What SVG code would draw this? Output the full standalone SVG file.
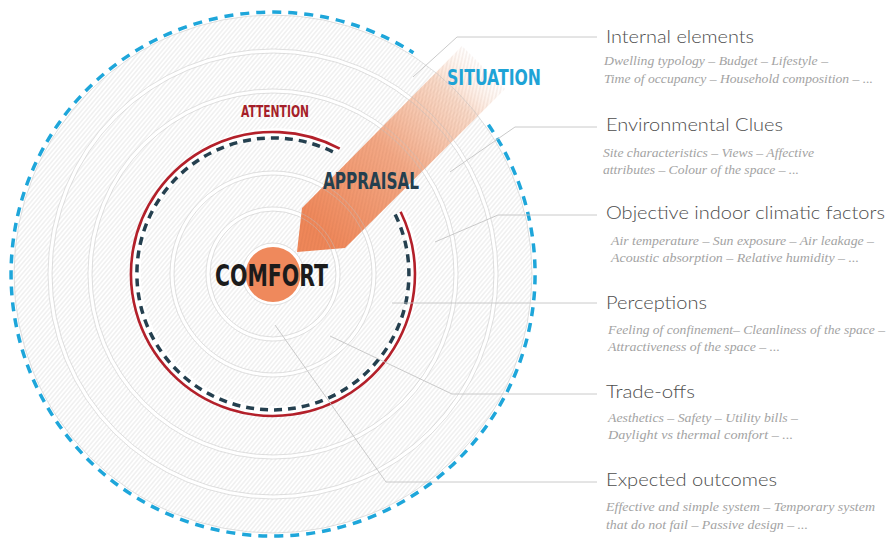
<svg xmlns="http://www.w3.org/2000/svg" width="892" height="538" viewBox="0 0 892 538">
<defs>
<style>
.band{fill:none;stroke:#ffffff;stroke-width:4}
.edge{fill:none;stroke:#bdbdbd;stroke-width:0.6;stroke-opacity:0.8}
.lead{fill:none;stroke:#c4c4c4;stroke-width:0.9}
.cap{font-family:'DejaVu Sans Condensed','DejaVu Sans',sans-serif;font-stretch:condensed;font-weight:bold}
.title{font-family:Lato,'Open Sans',sans-serif;font-weight:300;font-size:18px;fill:#4d4d4d}
.sub{font-family:'Liberation Serif',serif;font-style:italic;font-size:13px;fill:#a3a3a3}
</style>
<pattern id="hatch" width="3.3" height="3.3" patternUnits="userSpaceOnUse" patternTransform="rotate(40)">
<line x1="1.65" y1="0" x2="1.65" y2="3.3" stroke="#d4d4d4" stroke-width="0.55"/>
</pattern>
<pattern id="hatch2" width="3.4" height="3.4" patternUnits="userSpaceOnUse" patternTransform="rotate(12)">
<line x1="1.7" y1="0" x2="1.7" y2="3.4" stroke="#8a4a2a" stroke-width="0.5" stroke-opacity="0.22"/>
</pattern>
<linearGradient id="arrowGrad" gradientUnits="userSpaceOnUse" x1="318" y1="232" x2="486" y2="64">
<stop offset="0" stop-color="#ee8354" stop-opacity="0.97"/>
<stop offset="0.45" stop-color="#f29f78" stop-opacity="0.9"/>
<stop offset="0.8" stop-color="#f7c3a6" stop-opacity="0.6"/>
<stop offset="1" stop-color="#fde6d9" stop-opacity="0"/>
</linearGradient>
<clipPath id="arrowClip"><polygon points="297,252 302,208 462,46 505,89 345,248"/></clipPath>
</defs>
<rect width="892" height="538" fill="#ffffff"/>

<g id="disk">
<circle cx="273" cy="274" r="259" fill="url(#hatch)"/>
<circle class="band" cx="273" cy="274" r="223"/>
<circle class="band" cx="273" cy="274" r="183"/>
<circle class="band" cx="273" cy="274" r="101"/>
<circle class="band" cx="273" cy="274" r="65"/>
<circle cx="273" cy="274" r="31" fill="#ffffff"/>
<path d="M 400.6 211.7 A 139 139 0 1 1 339.7 148.6" fill="none" stroke="#ffffff" stroke-width="9"/>
</g>

<g id="arrow">
<polygon points="297,252 302,208 462,46 505,89 345,248" fill="url(#arrowGrad)"/>
<rect x="290" y="40" width="220" height="215" fill="url(#hatch2)" clip-path="url(#arrowClip)"/>
</g>

<g id="ring-edges">
<circle class="edge" cx="273" cy="274" r="259"/>
<circle class="edge" cx="273" cy="274" r="225"/>
<circle class="edge" cx="273" cy="274" r="221"/>
<circle class="edge" cx="273" cy="274" r="185"/>
<circle class="edge" cx="273" cy="274" r="181"/>
<circle class="edge" cx="273" cy="274" r="103"/>
<circle class="edge" cx="273" cy="274" r="99"/>
<circle class="edge" cx="273" cy="274" r="67"/>
<circle class="edge" cx="273" cy="274" r="63"/>
<circle class="edge" cx="273" cy="274" r="31"/>
</g>

<g id="ring-situation">
<path d="M 488.4 124.8 A 262 262 0 1 1 413.4 52.8" fill="none" stroke="#1ea6da" stroke-width="3.5" stroke-dasharray="9 7"/>
</g>

<g id="ring-attention">
<path d="M 400.6 211.7 A 142 142 0 1 1 339.7 148.6" fill="none" stroke="#b3202a" stroke-width="2.6"/>
<path d="M 395.2 214.4 A 136 136 0 1 1 336.9 153.9" fill="none" stroke="#25404f" stroke-width="3.5" stroke-dasharray="8 6"/>
</g>

<g id="connectors">
<polyline class="lead" points="413,77 457,37 597,37"/>
<polyline class="lead" points="450,172 515,127 597,127"/>
<polyline class="lead" points="435,242 498,215 597,215"/>
<polyline class="lead" points="392,303 597,303"/>
<polyline class="lead" points="330,336 452,394 597,394"/>
<polyline class="lead" points="275,325 386,482 597,482"/>
</g>

<g id="node-comfort">
<circle cx="273" cy="274.5" r="27.5" fill="#ef895c"/>
<text class="cap" x="215" y="286" font-size="31" fill="#1b1b1b" textLength="113" lengthAdjust="spacingAndGlyphs">COMFORT</text>
</g>
<g id="label-attention">
<text class="cap" x="241" y="117" font-size="16" fill="#a51f29" textLength="68" lengthAdjust="spacingAndGlyphs">ATTENTION</text>
</g>
<g id="label-appraisal">
<text class="cap" x="323" y="189" font-size="23" fill="#243f4f" textLength="96" lengthAdjust="spacingAndGlyphs">APPRAISAL</text>
</g>
<g id="label-situation">
<text class="cap" x="447" y="85" font-size="21" fill="#1ea3d6" textLength="94" lengthAdjust="spacingAndGlyphs">SITUATION</text>
</g>

<g id="node-internal">
<text class="title" x="606" y="43" textLength="148" lengthAdjust="spacingAndGlyphs">Internal elements</text>
<text class="sub" x="604" y="65" textLength="224" lengthAdjust="spacingAndGlyphs">Dwelling typology – Budget – Lifestyle –</text>
<text class="sub" x="604" y="83" textLength="269" lengthAdjust="spacingAndGlyphs">Time of occupancy – Household composition – ...</text>
</g>
<g id="node-environmental">
<text class="title" x="606" y="131" textLength="177" lengthAdjust="spacingAndGlyphs">Environmental Clues</text>
<text class="sub" x="603" y="157" textLength="211" lengthAdjust="spacingAndGlyphs">Site characteristics – Views – Affective</text>
<text class="sub" x="603" y="174" textLength="196" lengthAdjust="spacingAndGlyphs">attributes – Colour of the space – ...</text>
</g>
<g id="node-objective">
<text class="title" x="606" y="219" textLength="279" lengthAdjust="spacingAndGlyphs">Objective indoor climatic factors</text>
<text class="sub" x="611" y="245" textLength="263" lengthAdjust="spacingAndGlyphs">Air temperature – Sun exposure – Air leakage –</text>
<text class="sub" x="611" y="262" textLength="248" lengthAdjust="spacingAndGlyphs">Acoustic absorption – Relative humidity – ...</text>
</g>
<g id="node-perceptions">
<text class="title" x="606" y="309" textLength="101" lengthAdjust="spacingAndGlyphs">Perceptions</text>
<text class="sub" x="608" y="334" textLength="277" lengthAdjust="spacingAndGlyphs">Feeling of confinement– Cleanliness of the space –</text>
<text class="sub" x="608" y="351" textLength="172" lengthAdjust="spacingAndGlyphs">Attractiveness of the space  – ...</text>
</g>
<g id="node-tradeoffs">
<text class="title" x="606" y="398" textLength="89" lengthAdjust="spacingAndGlyphs">Trade-offs</text>
<text class="sub" x="608" y="422" textLength="190" lengthAdjust="spacingAndGlyphs">Aesthetics – Safety – Utility bills –</text>
<text class="sub" x="608" y="439" textLength="185" lengthAdjust="spacingAndGlyphs">Daylight vs thermal comfort  – ...</text>
</g>
<g id="node-outcomes">
<text class="title" x="606" y="486" textLength="171" lengthAdjust="spacingAndGlyphs">Expected outcomes</text>
<text class="sub" x="606" y="511" textLength="269" lengthAdjust="spacingAndGlyphs">Effective and simple system – Temporary system</text>
<text class="sub" x="606" y="529" textLength="202" lengthAdjust="spacingAndGlyphs">that do not fail – Passive design  – ...</text>
</g>
</svg>
